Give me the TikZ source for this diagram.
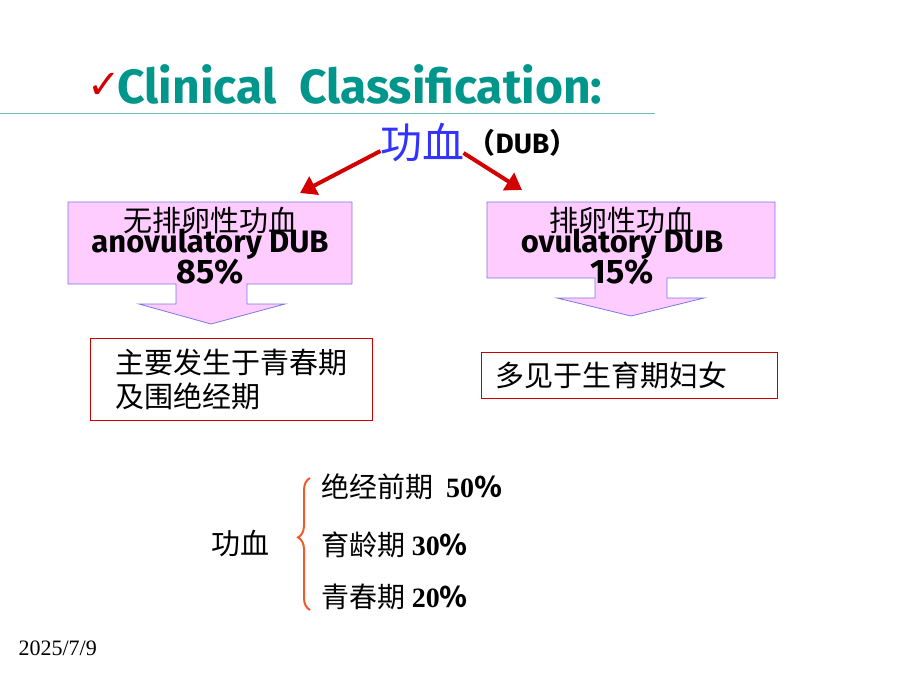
\documentclass[tikz,border=0pt]{standalone}
\usepackage{fontspec}
\setmainfont{Fira Sans}
\newfontfamily\cjk{Noto Sans CJK SC}
\newfontfamily\sym{DejaVu Sans}
\newfontfamily\datefont{Liberation Serif}
\usetikzlibrary{decorations.pathreplacing,arrows.meta}
\definecolor{teal1}{RGB}{0,150,140}
\definecolor{pinkbox}{RGB}{255,204,255}
\definecolor{boxline}{RGB}{120,120,230}
\definecolor{arrred}{RGB}{210,0,0}
\definecolor{bracecol}{RGB}{240,90,40}
\tikzset{
  callout/.style={fill=pinkbox, draw=boxline, line width=0.8pt},
  textbox/.style={draw=red!80!black, line width=0.6pt, anchor=north west, align=left, inner sep=8pt},
  redarrow/.style={arrred, line width=4pt, -{Triangle[length=16pt,width=20pt]}},
  item/.style={anchor=west, font=\fontsize{28}{30}\selectfont}
}
\begin{document}
\begin{tikzpicture}[x=1pt,y=-1pt]
  \useasboundingbox (0,0) rectangle (920,690);
  % title
  \node (check) at (104,86) {\sym\fontsize{40}{40}\selectfont\color{arrred}✓};
  \node[anchor=west, teal1, font=\fontsize{48}{50}\selectfont\bfseries] (title) at (114,84) {Clinical\ \ Classification:};
  \draw[teal1!60, line width=0.8pt] (0,113) -- (655,113);
  % root
  \node (root) at (422,143) {\cjk\fontsize{42}{44}\selectfont\color{blue!80}功血};
  \node[anchor=west, font=\fontsize{28}{30}\selectfont\bfseries, inner xsep=0pt] (dub) at (root.east) {\cjk（\normalfont\bfseries DUB\cjk）};
  % callouts
  \draw[callout] (68,202) -- (352,202) -- (352,284) -- (247,284) -- (247,304) -- (285,304)
    -- (211,324) -- (139,304) -- (176,304) -- (176,284) -- (68,284) -- cycle;
  \draw[callout] (487,202) -- (775,202) -- (775,278) -- (667,278) -- (667,298) -- (704,298)
    -- (631,316) -- (557,298) -- (595,298) -- (595,278) -- (487,278) -- cycle;
  \node[align=center, font=\fontsize{31}{26}\selectfont\bfseries] (anov) at (210,246)
    {{\cjk\mdseries\fontsize{29}{26}\selectfont 无排卵性功血}\\[-6pt]anovulatory DUB\\[-2pt]{\fontsize{34}{30}\selectfont 85\%}};
  \node[align=center, font=\fontsize{31}{26}\selectfont\bfseries] (ov) at (622,246)
    {{\cjk\mdseries\fontsize{29}{26}\selectfont 排卵性功血}\\[-6pt]ovulatory DUB\\[-2pt]{\fontsize{34}{30}\selectfont 15\%}};
  \draw[redarrow] (root.west) ++(4,8) -- (300,193);
  \draw[redarrow] (root.east) ++(-4,10) -- (522,190);
  % text boxes
  \node[textbox, minimum width=282pt, minimum height=82pt, font=\cjk\fontsize{29}{34}\selectfont] (anovtxt) at (90,338)
    {主要发生于青春期\\及围绝经期};
  \node[textbox, minimum width=296pt, minimum height=46pt, font=\cjk\fontsize{29}{30}\selectfont] (ovtxt) at (481,352)
    {多见于生育期妇女\hspace{35pt}};
  % age distribution
  \node (dub2) at (240,543) {\cjk\fontsize{29}{30}\selectfont 功血};
  \draw[bracecol, line width=2pt, decorate, decoration={brace, amplitude=12pt, mirror, aspect=0.45}]
    (310,478) -- (310,610);
  \node[item] (age1) at (318,487) {\cjk 绝经前期\ \ \datefont\bfseries 50\cjk ％};
  \node[item] (age2) at (318,545) {\cjk 育龄期\ \datefont\bfseries 30\cjk ％};
  \node[item] (age3) at (318,597) {\cjk 青春期\ \datefont\bfseries 20\cjk ％};
  \node[anchor=west, font=\datefont\fontsize{22}{24}\selectfont] (date) at (15,648) {2025/7/9};
\end{tikzpicture}
\end{document}
